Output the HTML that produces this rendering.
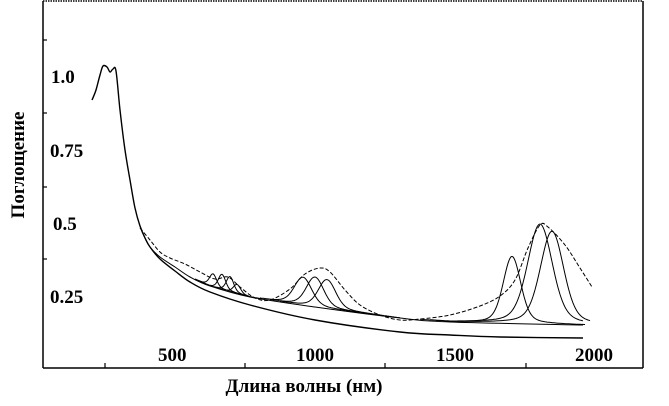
<!DOCTYPE html>
<html><head><meta charset="utf-8"><style>
body{margin:0;background:#fff;width:669px;height:406px;overflow:hidden}
svg{position:absolute;left:0;top:0}
text{font-family:"Liberation Serif",serif;font-weight:bold;fill:#000}
</style></head><body>
<svg id="s" width="669" height="406" viewBox="0 0 669 406">
<line x1="43" y1="1" x2="643" y2="1" stroke="#000" stroke-width="1.5" stroke-dasharray="1.5 1"/>
<line x1="43" y1="1" x2="43" y2="368" stroke="#000" stroke-width="1.5"/>
<line x1="643" y1="1" x2="643" y2="368" stroke="#000" stroke-width="1.5"/>
<line x1="43" y1="368" x2="643" y2="368" stroke="#000" stroke-width="1.5"/>
<g stroke="#000" stroke-width="1.2">
<line x1="105" y1="368" x2="105" y2="363"/><line x1="245" y1="368" x2="245" y2="363"/>
<line x1="385" y1="368" x2="385" y2="363"/><line x1="526" y1="368" x2="526" y2="363"/>
<line x1="43" y1="40" x2="47" y2="40"/><line x1="43" y1="113" x2="47" y2="113"/>
<line x1="43" y1="187" x2="47" y2="187"/><line x1="43" y1="259" x2="47" y2="259"/>
</g>
<g font-size="19">
<text x="51" y="83">1.0</text><text x="50" y="157">0.75</text>
<text x="53" y="230">0.5</text><text x="50" y="303">0.25</text>
<text x="158" y="361">500</text><text x="296" y="361">1000</text>
<text x="436" y="361">1500</text><text x="575" y="361">2000</text>
</g>
<text x="304" y="392" font-size="19" text-anchor="middle">Длина волны  (нм)</text>
<text transform="translate(24,165) rotate(-90)" font-size="19" text-anchor="middle">Поглощение</text>
<g id="c" fill="none" stroke="#000" stroke-width="1"></g>
</svg>
<script>
function interp(p,x){for(let i=0;i<p.length-1;i++){if(x<=p[i+1][0]){const t=(x-p[i][0])/(p[i+1][0]-p[i][0]);return p[i][1]+t*(p[i+1][1]-p[i][1]);}}return p[p.length-1][1];}
function smooth(p){let d='M'+p[0][0]+','+p[0][1];for(let i=0;i<p.length-1;i++){const p0=p[Math.max(0,i-1)],p1=p[i],p2=p[i+1],p3=p[Math.min(p.length-1,i+2)];const c1=[p1[0]+(p2[0]-p0[0])/6,p1[1]+(p2[1]-p0[1])/6],c2=[p2[0]-(p3[0]-p1[0])/6,p2[1]-(p3[1]-p1[1])/6];d+='C'+c1.map(v=>v.toFixed(1))+' '+c2.map(v=>v.toFixed(1))+' '+p2[0]+','+p2[1];}return d;}
const head=[[92,100],[96,90],[100,75],[103,66],[107,67],[110,72],[113,69],[116,71],[120,110],[125,150],[130,180],[135,208],[140,226],[145,238],[150,247]];
const L=head.concat([[160,259],[175,271],[190,282],[210,292],[250,305],[315,320],[400,332],[450,335],[500,337],[583,338]]);
const U=head.concat([[160,257],[175,267],[190,277],[210,286],[250,297],[315,307],[400,318],[450,322],[583,325]]);
const D=[[140,228],[150,240],[160,252],[170,258],[185,264],[200,272],[215,279],[228,277],[240,287],[255,298],[270,300],[290,289],[305,274],[320,268],[330,272],[345,290],[360,305],[380,315],[400,320],[420,319],[450,315],[480,306],[500,296],[515,280],[528,248],[540,225],[548,227],[565,245],[580,268],[592,287]];
const g=document.getElementById('c');
function add(d,sw,dash){const p=document.createElementNS('http://www.w3.org/2000/svg','path');p.setAttribute('d',d);if(sw)p.setAttribute('stroke-width',sw);if(dash)p.setAttribute('stroke-dasharray',dash);g.appendChild(p);}
function line(pts){return 'M'+pts.map(p=>p[0].toFixed(1)+','+p[1].toFixed(1)).join('L');}
add(smooth(L),1.4);
add(smooth(U.filter(p=>p[0]>=140)),1);
add(smooth(D),1,'4 2');
function peak(c,A,w,a,b){const pts=[];for(let x=a;x<=b;x+=1){const u=(x-c)/w;const f=0.7*Math.exp(-u*u)+0.3/(1+u*u);pts.push([x,interp(U,x)-A*f]);}add(line(pts),1);}
peak(213,13,5,195,240);peak(222,15,5,200,248);peak(230,15,5,208,255);peak(237,9,5,215,262);
peak(303,28,12,260,360);peak(315,30,12,270,380);peak(327,29,12,280,400);
peak(512,67,12,420,585);peak(540,100,17,430,583);peak(552,93,16,450,590);
</script>
</body></html>
